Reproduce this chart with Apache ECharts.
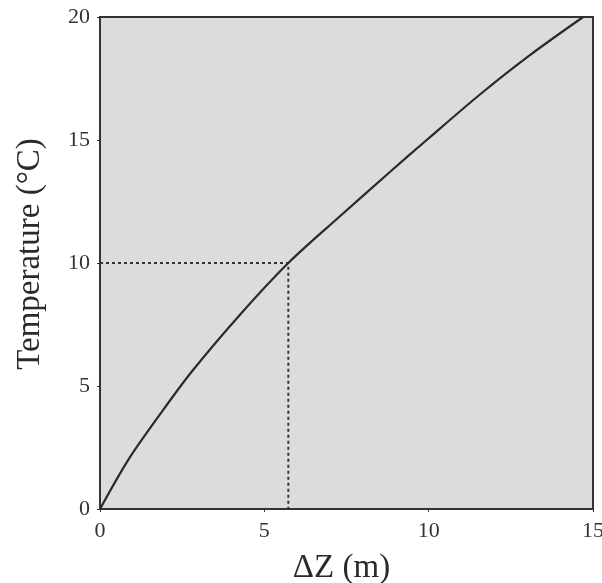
<!DOCTYPE html>
<html>
<head>
<meta charset="utf-8">
<script src="https://cdn.jsdelivr.net/npm/echarts@6/dist/echarts.min.js"></script>
<style>
  html, body { margin: 0; padding: 0; background: #fff; }
  #chart { width: 602px; height: 583px; }
</style>
</head>
<body>
<div id="chart"></div>
<script>
// curve
const dz = [0, 0.86, 1.88, 2.8, 4.26, 5.73, 7.3, 8.82, 9.94, 11.56, 13.08, 14.7];
const temp = [0, 2.0, 3.95, 5.6, 7.9, 10.0, 11.9, 13.7, 15.0, 16.85, 18.45, 20];
// dashed guide at 10 °C
const guideX = [0, 5.73, 5.73];
const guideY = [10, 10, 0];

const chart = echarts.init(document.getElementById('chart'));
const font = 'Liberation Serif';

const option = {
  animation: false,
  grid: {
    left: 100, top: 17, right: 9, bottom: 74,
    outerBoundsMode: 'none',
    containLabel: false,
    show: true,
    backgroundColor: '#dcdcdc',
    borderColor: '#333',
    borderWidth: 2,
  },
  xAxis: {
    type: 'value',
    min: 0, max: 15, interval: 5,
    name: 'ΔZ (m)',
    nameLocation: 'middle',
    nameGap: 43,
    nameTextStyle: { fontFamily: font, fontSize: 33, color: '#2a2a2a', padding: [0, 10, 0, 0] },
    axisLine: { show: true, lineStyle: { color: '#333', width: 2 } },
    axisTick: { show: true, length: 3, lineStyle: { color: '#333' } },
    axisLabel: { fontFamily: font, fontSize: 22, color: '#333', margin: 11 },
    splitLine: { show: false },
  },
  yAxis: {
    type: 'value',
    min: 0, max: 20, interval: 5,
    name: 'Temperature (°C)',
    nameLocation: 'middle',
    nameGap: 53,
    nameTextStyle: { fontFamily: font, fontSize: 33, color: '#2a2a2a', padding: [0, 0, 0, 18] },
    axisLine: { show: true, lineStyle: { color: '#333', width: 2 } },
    axisTick: { show: true, length: 3, lineStyle: { color: '#333' } },
    axisLabel: { fontFamily: font, fontSize: 22, color: '#333', margin: 10 },
    splitLine: { show: false },
  },
  series: [
    {
      type: 'line',
      data: guideX.map((x, i) => [x, guideY[i]]),
      showSymbol: false,
      lineStyle: { color: '#333', width: 2, type: [3, 3] },
      z: 2,
    },
    {
      type: 'line',
      data: dz.map((x, i) => [x, temp[i]]),
      smooth: 0.3,
      showSymbol: false,
      lineStyle: { color: '#2a2a2a', width: 2.2 },
      z: 3,
    },
  ],
};
chart.setOption(option);
</script>
</body>
</html>
